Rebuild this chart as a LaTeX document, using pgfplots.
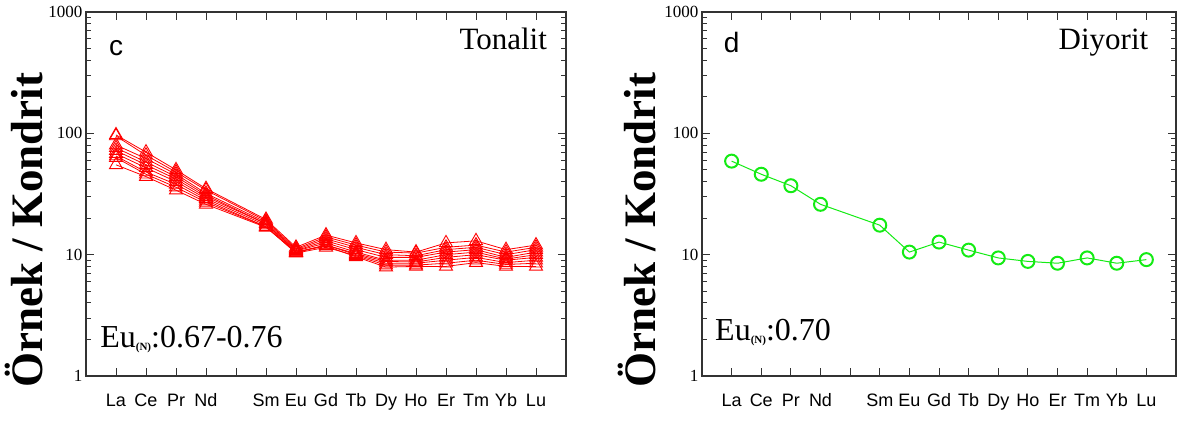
\documentclass[border=0pt]{standalone}
\usepackage{pgfplots}
\pgfplotsset{compat=1.18}
\usepackage{fontspec}
\setmainfont{Liberation Serif}
\newfontfamily\arial{Liberation Sans}
\definecolor{limeg}{RGB}{20,235,20}
\tikzset{tri/.style={red, line width=0.8bp, mark=triangle, mark size=7.5bp, mark options={solid, line width=0.9bp}}}
\begin{document}
\begin{tikzpicture}
\path[use as bounding box] (0,0) rectangle (1185bp,421bp);
\begin{axis}[at={(86bp,45bp)}, anchor=south west, width=480bp,
  scale only axis, height=364bp, ymode=log, ymin=1, ymax=1000, xmin=0, xmax=16,
  xtick={1,...,15}, xticklabels={La,Ce,Pr,Nd,,Sm,Eu,Gd,Tb,Dy,Ho,Er,Tm,Yb,Lu},
  ytick={1,10,100,1000}, yticklabels={1,10,100,1000},
  tick align=inside, xtick pos=both, ytick pos=both,
  major tick length=8bp, minor tick length=5bp,
  axis line style={line width=1.2bp, black!80},
  every tick/.style={black!80, line width=1bp},
  xticklabel style={font=\arial\fontsize{18bp}{18bp}\selectfont, text height=13bp, text depth=4bp, yshift=-14bp},
  yticklabel style={font=\fontsize{17bp}{17bp}\selectfont},
  /pgf/number format/assume math mode=true,
  ylabel={Örnek / Kondrit},
  clip=false,
  ylabel style={font=\bfseries\fontsize{45bp}{45bp}\selectfont, at={(axis description cs:-0.129,0.40)}, anchor=center}]
\addplot[tri] coordinates {(1,97)(2,70)(3,50)(4,35)(6,19.5)(7,11.5)(8,14.5)(9,12.5)(10,11)(11,10.5)(12,12.5)(13,13)(14,11)(15,12)};
\addplot[tri] coordinates {(1,95)(2,66)(3,48)(4,34)(6,19)(7,11.2)(8,14)(9,12)(10,10.5)(11,10.3)(12,11.5)(13,12)(14,10.5)(15,11.5)};
\addplot[tri] coordinates {(1,80)(2,62)(3,46)(4,32)(6,18.5)(7,11)(8,13.5)(9,11.5)(10,10)(11,9.8)(12,11)(13,11.5)(14,10)(15,11)};
\addplot[tri] coordinates {(1,76)(2,58)(3,44)(4,31)(6,18)(7,10.8)(8,13)(9,11)(10,9.5)(11,9.5)(12,10.5)(13,11)(14,9.5)(15,10.5)};
\addplot[tri] coordinates {(1,72)(2,55)(3,42)(4,30)(6,18)(7,10.7)(8,12.5)(9,10.5)(10,9)(11,9)(12,10)(13,10.5)(14,9.2)(15,10)};
\addplot[tri] coordinates {(1,68)(2,52)(3,40)(4,29)(6,17.5)(7,10.5)(8,12)(9,10.2)(10,8.8)(11,8.7)(12,9.5)(13,10)(14,9)(15,9.5)};
\addplot[tri] coordinates {(1,65)(2,48)(3,38)(4,28)(6,17)(7,10.4)(8,12)(9,10)(10,8.5)(11,8.5)(12,9)(13,9.5)(14,8.6)(15,9)};
\addplot[tri] coordinates {(1,63)(2,46)(3,36)(4,27)(6,17)(7,10.3)(8,11.5)(9,9.8)(10,8.2)(11,8.2)(12,8.5)(13,9)(14,8.3)(15,8.5)};
\addplot[tri] coordinates {(1,55)(2,44)(3,34)(4,26)(6,16.8)(7,10.5)(8,11.8)(9,9.6)(10,7.9)(11,8)(12,8)(13,8.6)(14,8)(15,8)};
\node[font=\arial\fontsize{28bp}{28bp}\selectfont, anchor=center] at (axis cs:1,500) {c};
\node[font=\fontsize{31bp}{31bp}\selectfont, anchor=base east, inner sep=0pt] at (axis cs:15.37,487) {Tonalit};
\node[font=\fontsize{32bp}{32bp}\selectfont, anchor=base west, inner sep=0pt] at (axis cs:0.47,1.73) {Eu\raisebox{-3bp}{\fontsize{11bp}{11bp}\selectfont\bfseries(N)}:0.67-0.76};
\end{axis}
\begin{axis}[at={(702bp,45bp)}, anchor=south west, width=474bp,
  scale only axis, height=364bp, ymode=log, ymin=1, ymax=1000, xmin=0, xmax=16,
  xtick={1,...,15}, xticklabels={La,Ce,Pr,Nd,,Sm,Eu,Gd,Tb,Dy,Ho,Er,Tm,Yb,Lu},
  ytick={1,10,100,1000}, yticklabels={1,10,100,1000},
  tick align=inside, xtick pos=both, ytick pos=both,
  major tick length=8bp, minor tick length=5bp,
  axis line style={line width=1.2bp, black!80},
  every tick/.style={black!80, line width=1bp},
  xticklabel style={font=\arial\fontsize{18bp}{18bp}\selectfont, text height=13bp, text depth=4bp, yshift=-14bp},
  yticklabel style={font=\fontsize{17bp}{17bp}\selectfont},
  /pgf/number format/assume math mode=true,
  ylabel={Örnek / Kondrit},
  clip=false,
  ylabel style={font=\bfseries\fontsize{45bp}{45bp}\selectfont, at={(axis description cs:-0.137,0.40)}, anchor=center}]
\addplot[limeg, line width=1bp, mark=o, mark size=6.5bp, mark options={solid, line width=2bp}] coordinates {(1,59)(2,46)(3,37)(4,26)(6,17.5)(7,10.5)(8,12.7)(9,10.9)(10,9.4)(11,8.8)(12,8.5)(13,9.4)(14,8.5)(15,9.1)};
\node[font=\arial\fontsize{28bp}{28bp}\selectfont, anchor=center] at (axis cs:1,560) {d};
\node[font=\fontsize{31bp}{31bp}\selectfont, anchor=base east, inner sep=0pt] at (axis cs:15.07,487) {Diyorit};
\node[font=\fontsize{32bp}{32bp}\selectfont, anchor=base west, inner sep=0pt] at (axis cs:0.44,1.98) {Eu\raisebox{-3bp}{\fontsize{11bp}{11bp}\selectfont\bfseries(N)}:0.70};
\end{axis}
\end{tikzpicture}
\end{document}
